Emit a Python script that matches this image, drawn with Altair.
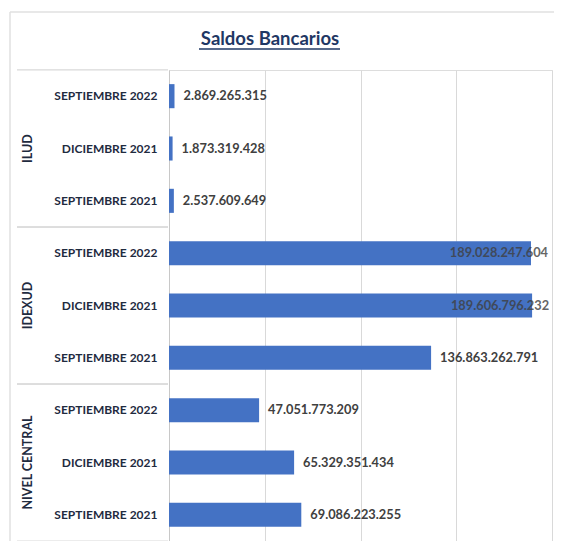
import altair as alt
import pandas as pd

groups = ["ILUD", "ILUD", "ILUD",
          "IDEXUD", "IDEXUD", "IDEXUD",
          "NIVEL CENTRAL", "NIVEL CENTRAL", "NIVEL CENTRAL"]
periods = ["SEPTIEMBRE 2022", "DICIEMBRE 2021", "SEPTIEMBRE 2021"] * 3
values = [2869265315, 1873319428, 2537609649,
          189028247604, 189606796232, 136863262791,
          47051773209, 65329351434, 69086223255]
labels = [f"{v:,}".replace(",", ".") for v in values]
rows = [f"{g}|{p}" for g, p in zip(groups, periods)]

df = pd.DataFrame({"group": groups, "period": periods, "value": values,
                   "label": labels, "row": rows})

FONT = "Lato"
NAVY = "#1F2B3F"

y_enc = alt.Y("row:N", sort=rows,
              scale=alt.Scale(paddingInner=0.54, paddingOuter=0.27),
              axis=alt.Axis(title=None,
                            labelExpr="split(datum.label, '|')[1]",
                            labelFont=FONT, labelFontWeight="bold",
                            labelFontSize=12, labelColor=NAVY,
                            labelPadding=12, ticks=False,
                            domainColor="#C8C8C8", grid=False))
x_enc = alt.X("value:Q",
              scale=alt.Scale(domain=[0, 200e9], nice=False),
              axis=alt.Axis(title=None, labels=False, ticks=False, domain=False,
                            values=[0, 50e9, 100e9, 150e9, 200e9],
                            gridColor="#D9D9D9", grid=True))

base = alt.Chart(df)

bars = base.mark_bar(color="#4472C4").encode(x=x_enc, y=y_enc)

lab_out = base.transform_filter(alt.datum.value < 150e9).mark_text(
    align="left", baseline="middle", dx=9, font=FONT, fontWeight="bold",
    fontSize=12.8, color="#404040").encode(x=x_enc, y=y_enc, text="label:N")

lab_in = base.transform_filter(alt.datum.value >= 150e9).mark_text(
    align="right", baseline="middle", dx=17, font=FONT, fontWeight="bold",
    fontSize=12.8, color="#404040", opacity=0.8).encode(x=x_enc, y=y_enc, text="label:N")

group_text = base.transform_filter(alt.datum.period == "DICIEMBRE 2021").mark_text(
    angle=270, align="center", baseline="middle", font=FONT, fontWeight="bold",
    fontSize=12.5, color=NAVY).encode(x=alt.value(-141), y=y_enc, text="group:N")

sep_top = base.transform_filter(alt.datum.period == "SEPTIEMBRE 2022").mark_rule(
    color="#D9D9D9", strokeWidth=1.2, yOffset=-26.2).encode(
    x=alt.value(-152), x2=alt.value(-1), y=y_enc)
sep_bot = base.transform_filter(alt.datum.period == "SEPTIEMBRE 2021").mark_rule(
    color="#D9D9D9", strokeWidth=1.2, yOffset=26.2).encode(
    x=alt.value(-152), x2=alt.value(-1), y=y_enc)

title_df = pd.DataFrame({"t": ["Saldos Bancarios"]})
title = alt.Chart(title_df).mark_text(
    align="center", baseline="alphabetic", font=FONT, fontWeight="bold",
    fontSize=18.5, color="#1F3864").encode(
    x=alt.value(101), y=alt.value(-25), text="t:N")
underline = alt.Chart(title_df).mark_rule(color="#1F3864", strokeWidth=1.5).encode(
    x=alt.value(30), x2=alt.value(171), y=alt.value(-21))

border_top = alt.Chart(title_df).mark_rule(color="#E0E0E0", strokeWidth=1.5).encode(
    x=alt.value(-159), x2=alt.value(400), y=alt.value(-58))
border_left = alt.Chart(title_df).mark_rule(color="#E0E0E0", strokeWidth=1.5).encode(
    x=alt.value(-159), y=alt.value(-58), y2=alt.value(480))

chart = alt.layer(
    border_top, border_left, bars, lab_out, lab_in, group_text,
    sep_top, sep_bot, title, underline
).properties(
    width=383, height=471,
    autosize=alt.AutoSizeParams(type="none"),
    padding={"left": 161, "top": 62, "right": 2, "bottom": 0},
).configure_view(stroke=None).configure(background="white")

chart.save("out.html", embed_options={"renderer": "svg", "actions": False})
